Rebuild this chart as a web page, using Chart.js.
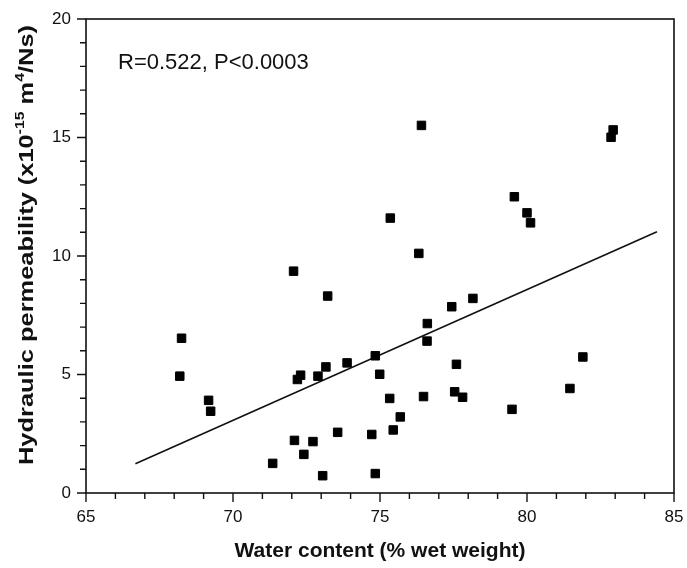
<!DOCTYPE html>
<html>
<head>
<meta charset="utf-8">
<script src="https://cdn.jsdelivr.net/npm/chart.js@4.4.1/dist/chart.umd.min.js"></script>
<style>
    html, body { margin: 0; padding: 0; background: #ffffff; }
    #Main_Chart { display: block; }
</style>
</head>
<body>
<canvas id="Main_Chart" width="687" height="568"></canvas>
<script>
const Water_Content = [
    68.19, 68.25, 69.17, 69.24, 71.35, 72.06, 72.09, 72.19, 72.30, 72.41,
    72.72, 72.89, 73.05, 73.16, 73.22, 73.56, 73.88, 74.72, 74.84, 74.84,
    74.99, 75.33, 75.45, 75.69, 76.48, 76.60, 76.61, 77.44, 77.54, 77.60,
    77.81, 78.16, 79.49, 81.46, 81.90, 76.41, 75.35, 76.32, 79.57, 80.00,
    80.12, 82.93, 82.86
];
const Permeability = [
    4.93, 6.53, 3.91, 3.45, 1.25, 9.36, 2.22, 4.79, 4.97, 1.63,
    2.17, 4.93, 0.73, 5.32, 8.31, 2.56, 5.49, 2.47, 0.82, 5.79,
    5.01, 3.99, 2.66, 3.21, 4.07, 6.41, 7.15, 7.86, 4.27, 5.43,
    4.04, 8.21, 3.53, 4.41, 5.74, 15.51, 11.60, 10.11, 12.50, 11.82,
    11.40, 15.32, 15.01
];
const Fit_X = [66.68, 84.42];
const Fit_Y = [1.23, 11.02];
const X_Range = [65, 85];
const Y_Range = [0, 20];
const Annotation_Text = "R=0.522, P<0.0003";
const X_Title = "Water content (% wet weight)";
const Y_Title_Parts = [
    { Text: "Hydraulic permeability (x10", Sup: false },
    { Text: "-15", Sup: true },
    { Text: " m", Sup: false },
    { Text: "4", Sup: true },
    { Text: "/Ns)", Sup: false }
];

const Ink = "#111111";
const Font_Family = "'Liberation Sans', Arial, sans-serif";

function To_Points(Xs, Ys) {
    return Xs.map(function (X, I) { return { x: X, y: Ys[I] }; });
}

function No_Overhang(Scale) {
    Scale.paddingLeft = 0;
    Scale.paddingRight = 0;
    Scale.paddingTop = 0;
    Scale.paddingBottom = 0;
}

const Frame_Plugin = {
    id: "frame_plugin",
    beforeDatasetsDraw: function (Chart_Obj) {
        const Ctx = Chart_Obj.ctx;
        const Area = Chart_Obj.chartArea;
        const X_Scale = Chart_Obj.scales.x;
        const Y_Scale = Chart_Obj.scales.y;
        Ctx.save();
        Ctx.strokeStyle = Ink;
        Ctx.lineWidth = 1.6;
        Ctx.strokeRect(Area.left, Area.top, Area.right - Area.left, Area.bottom - Area.top);
        Ctx.lineWidth = 1.4;
        Ctx.beginPath();
        for (let V = X_Range[0]; V <= X_Range[1]; V++) {
            const Px = X_Scale.getPixelForValue(V);
            const Len = V % 5 === 0 ? 9 : 6;
            Ctx.moveTo(Px, Area.bottom);
            Ctx.lineTo(Px, Area.bottom + Len);
        }
        for (let V = Y_Range[0]; V <= Y_Range[1]; V++) {
            const Py = Y_Scale.getPixelForValue(V);
            const Len = V % 5 === 0 ? 9 : 6;
            Ctx.moveTo(Area.left, Py);
            Ctx.lineTo(Area.left - Len, Py);
        }
        Ctx.stroke();
        Ctx.restore();
    },
    afterDraw: function (Chart_Obj) {
        const Ctx = Chart_Obj.ctx;
        const Area = Chart_Obj.chartArea;
        Ctx.save();
        Ctx.fillStyle = Ink;
        Ctx.textBaseline = "alphabetic";

        // annotation
        Ctx.font = "22px " + Font_Family;
        Ctx.textAlign = "left";
        Ctx.fillText(Annotation_Text, Area.left + 32, Area.top + 50);

        // x title
        Ctx.font = "bold 21px " + Font_Family;
        Ctx.textAlign = "center";
        Ctx.fillText(X_Title, (Area.left + Area.right) / 2, 557);

        // y title with superscripts
        const Main_Font = "bold 21px " + Font_Family;
        const Sup_Font = "bold 13px " + Font_Family;
        let Total = 0;
        Y_Title_Parts.forEach(function (Part) {
            Ctx.font = Part.Sup ? Sup_Font : Main_Font;
            Part.Width = Ctx.measureText(Part.Text).width;
            Total += Part.Width;
        });
        const Stretch = 440 / Total;
        Ctx.translate(33, 245);
        Ctx.rotate(-Math.PI / 2);
        Ctx.scale(Stretch, 1);
        Ctx.textAlign = "left";
        let Pos = -Total / 2;
        Y_Title_Parts.forEach(function (Part) {
            Ctx.font = Part.Sup ? Sup_Font : Main_Font;
            Ctx.fillText(Part.Text, Pos, Part.Sup ? -9 : 0);
            Pos += Part.Width;
        });
        Ctx.restore();
    }
};

const Tick_Font = { family: Font_Family, size: 17 };

const Main_Chart_Config = {
    type: "scatter",
    data: {
        datasets: [{
            label: "Samples",
            data: To_Points(Water_Content, Permeability),
            pointStyle: "rect",
            radius: 6,
            backgroundColor: "#000000",
            borderColor: "#000000",
            borderWidth: 1
        }, {
            type: "line",
            label: "Fit",
            data: To_Points(Fit_X, Fit_Y),
            borderColor: Ink,
            borderWidth: 1.6,
            pointRadius: 0,
            fill: false
        }]
    },
    options: {
        responsive: false,
        animation: false,
        layout: { padding: { top: 19, right: 13, left: 0, bottom: 0 } },
        plugins: {
            legend: { display: false },
            tooltip: { enabled: false }
        },
        scales: {
            x: {
                type: "linear",
                min: X_Range[0],
                max: X_Range[1],
                border: { display: false },
                grid: { display: true, drawOnChartArea: false, drawTicks: false },
                ticks: {
                    stepSize: 1,
                    autoSkip: false,
                    maxRotation: 0,
                    padding: 14,
                    color: Ink,
                    font: Tick_Font,
                    callback: function (V) { return V % 5 === 0 ? String(V) : ""; }
                },
                afterFit: function (Scale) { Scale.height = 75; No_Overhang(Scale); }
            },
            y: {
                type: "linear",
                min: Y_Range[0],
                max: Y_Range[1],
                border: { display: false },
                grid: { display: true, drawOnChartArea: false, drawTicks: false },
                ticks: {
                    stepSize: 1,
                    autoSkip: false,
                    padding: 15,
                    color: Ink,
                    font: Tick_Font,
                    callback: function (V) { return V % 5 === 0 ? String(V) : ""; }
                },
                afterFit: function (Scale) { Scale.width = 86; No_Overhang(Scale); }
            }
        }
    },
    plugins: [Frame_Plugin]
};

new Chart(document.getElementById("Main_Chart"), Main_Chart_Config);
</script>
</body>
</html>
